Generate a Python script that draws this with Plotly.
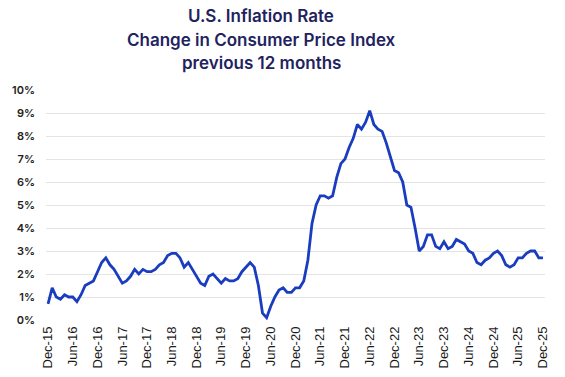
import plotly.graph_objects as go

# Monthly CPI YoY change (%), Dec 2015 .. Dec 2025
months = []
names = ["Jan", "Feb", "Mar", "Apr", "May", "Jun", "Jul", "Aug", "Sep", "Oct", "Nov", "Dec"]
months.append("Dec-15")
for yr in range(16, 26):
    for m in names:
        months.append(f"{m}-{yr}")

cpi_2015 = [0.7]
cpi_2016 = [1.4, 1.0, 0.9, 1.1, 1.0, 1.0, 0.8, 1.1, 1.5, 1.6, 1.7, 2.1]
cpi_2017 = [2.5, 2.7, 2.4, 2.2, 1.9, 1.6, 1.7, 1.9, 2.2, 2.0, 2.2, 2.1]
cpi_2018 = [2.1, 2.2, 2.4, 2.5, 2.8, 2.9, 2.9, 2.7, 2.3, 2.5, 2.2, 1.9]
cpi_2019 = [1.6, 1.5, 1.9, 2.0, 1.8, 1.6, 1.8, 1.7, 1.7, 1.8, 2.1, 2.3]
cpi_2020 = [2.5, 2.3, 1.5, 0.3, 0.1, 0.6, 1.0, 1.3, 1.4, 1.2, 1.2, 1.4]
cpi_2021 = [1.4, 1.7, 2.6, 4.2, 5.0, 5.4, 5.4, 5.3, 5.4, 6.2, 6.8, 7.0]
cpi_2022 = [7.5, 7.9, 8.5, 8.3, 8.6, 9.1, 8.5, 8.3, 8.2, 7.7, 7.1, 6.5]
cpi_2023 = [6.4, 6.0, 5.0, 4.9, 4.0, 3.0, 3.2, 3.7, 3.7, 3.2, 3.1, 3.4]
cpi_2024 = [3.1, 3.2, 3.5, 3.4, 3.3, 3.0, 2.9, 2.5, 2.4, 2.6, 2.7, 2.9]
cpi_2025 = [3.0, 2.8, 2.4, 2.3, 2.4, 2.7, 2.7, 2.9, 3.0, 3.0, 2.7, 2.7]

values = (cpi_2015 + cpi_2016 + cpi_2017 + cpi_2018 + cpi_2019 + cpi_2020
          + cpi_2021 + cpi_2022 + cpi_2023 + cpi_2024 + cpi_2025)

tick_labels = ["Dec-15", "Jun-16", "Dec-16", "Jun-17", "Dec-17", "Jun-18", "Dec-18",
               "Jun-19", "Dec-19", "Jun-20", "Dec-20", "Jun-21", "Dec-21", "Jun-22",
               "Dec-22", "Jun-23", "Dec-23", "Jun-24", "Dec-24", "Jun-25", "Dec-25"]
y_ticks = [0, 1, 2, 3, 4, 5, 6, 7, 8, 9, 10]
title_lines = ["U.S. Inflation Rate", "Change in Consumer Price Index", "previous 12 months"]

x_idx = list(range(len(values)))
tick_pos = [months.index(t) for t in tick_labels]

W, H = 565, 377
L, T, R, B = 46, 90, 20, 57
PW, PH = W - L - R, H - T - B

fig = go.Figure()
fig.add_trace(go.Scatter(
    x=x_idx, y=values, mode="lines",
    line=dict(color="#1a3dc0", width=2.8),
    hoverinfo="skip",
))

line_centers = [16, 40, 63]
annotations = []
for txt, yc in zip(title_lines, line_centers):
    annotations.append(dict(
        text=txt, xref="paper", yref="paper",
        x=(261 - L) / PW, y=1 + (T - yc) / PH,
        xanchor="center", yanchor="middle", showarrow=False,
        font=dict(family="Inter, Noto Sans, sans-serif", size=17, color="#22225e", weight=600),
    ))

fig.update_layout(
    width=W, height=H,
    margin=dict(l=L, r=R, t=T, b=B),
    paper_bgcolor="white", plot_bgcolor="white",
    showlegend=False,
    annotations=annotations,
    xaxis=dict(
        range=[-0.5, 120.5],
        tickmode="array", tickvals=tick_pos, ticktext=tick_labels,
        tickangle=-90,
        tickfont=dict(family="Liberation Sans, Arial, sans-serif", size=13, color="#1a1a1a"),
        showgrid=False, zeroline=False, showline=False,
        ticks="", automargin=False, ticklabelstandoff=3,
    ),
    yaxis=dict(
        range=[0, 10],
        tickmode="array", tickvals=y_ticks,
        ticktext=[f"{v}%" for v in y_ticks],
        tickfont=dict(family="Inter, Noto Sans, sans-serif", size=11, color="#222", weight=600),
        showgrid=True, gridcolor="#e4e4e4", gridwidth=1,
        zeroline=False, showline=False,
        ticklabelstandoff=10, automargin=False,
    ),
)

fig.write_html("out.html", post_script="document.body.style.margin='0';",
               config={"displayModeBar": False})
